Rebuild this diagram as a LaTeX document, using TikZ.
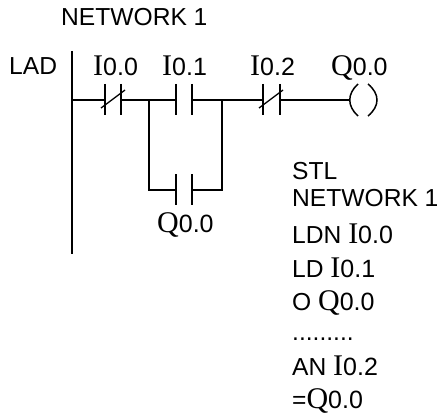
\documentclass[tikz,border=0pt]{standalone}
\usepackage{fontspec}
\setmainfont{Liberation Sans}
\newfontfamily\serifpart{Liberation Serif}
\newcommand{\sI}[1]{{\fontsize{30}{32}\selectfont\serifpart I}{\fontsize{25}{32}\selectfont #1}}
\newcommand{\sQ}[1]{{\fontsize{30}{32}\selectfont\serifpart Q}{\fontsize{25}{32}\selectfont #1}}
\tikzset{
  wire/.style={line width=1.3pt},
  lbl/.style={inner sep=0pt,anchor=base west,font=\fontsize{24.6}{28}\selectfont}
}
\begin{document}
\begin{tikzpicture}[x=1pt,y=-1pt]
\useasboundingbox (0,0) rectangle (444,417);
% power rail
\coordinate (railT) at (72,51);
\coordinate (railB) at (72,254);
\draw[wire] (railT) -- (railB);
% contact plates
\foreach \n/\x/\y in {a/105/100,b/121/100,c/176/100,d/192/100,e/176/190,f/192/190,g/263/100,h/280/100}{
  \coordinate (\n) at (\x,\y);
  \draw[wire] (\x,\y-16) -- (\x,\y+15);
}
% NC slashes
\coordinate (s1a) at (101,108); \coordinate (s1b) at (125,90);
\coordinate (s2a) at (259,108); \coordinate (s2b) at (283,90);
\draw[wire] (s1a) -- (s1b);
\draw[wire] (s2a) -- (s2b);
% branch points
\coordinate (j1) at (149,100);
\coordinate (j2) at (222,100);
\coordinate (j3) at (149,190);
\coordinate (j4) at (222,190);
\coordinate (coilL) at (350,100);
\coordinate (rung0) at (72,100);
\draw[wire] (rung0) -- (a);
\draw[wire] (b) -- (j1) -- (c);
\draw[wire] (d) -- (j2) -- (g);
\draw[wire] (h) -- (coilL);
\draw[wire] (j1) -- (j3) -- (e);
\draw[wire] (f) -- (j4) -- (j2);
% coil
\coordinate (pl) at (358,84);
\coordinate (pr) at (368,84);
\draw[line width=1.5pt] (pl) .. controls (347,94) and (347,106) .. (358,116);
\draw[line width=1.5pt] (pr) .. controls (380,94) and (380,106) .. (368,116);
% labels
\node[lbl] (net) at (61,26) {NETWORK 1};
\node[lbl] (lad) at (9,75) {LAD};
\node[lbl] (i0) at (93,76) {\sI{0.0}};
\node[lbl] (i1) at (162,76) {\sI{0.1}};
\node[lbl] (i2) at (250,76) {\sI{0.2}};
\node[lbl] (q0) at (331,76) {\sQ{0.0}};
\node[lbl] (q1) at (157,232) {\sQ{0.0}};
\node[lbl] (t1) at (292,179) {STL};
\node[lbl] (t2) at (292,206) {NETWORK 1};
\node[lbl] (t3) at (292,243) {LDN \sI{0.0}};
\node[lbl] (t4) at (292,277) {LD \sI{0.1}};
\node[lbl] (t5) at (292,310) {O \sQ{0.0}};
\node[lbl] (t6) at (292,340) {.........};
\node[lbl] (t7) at (292,375) {AN \sI{0.2}};
\node[lbl] (t8) at (292,408) {=\sQ{0.0}};
\end{tikzpicture}
\end{document}
